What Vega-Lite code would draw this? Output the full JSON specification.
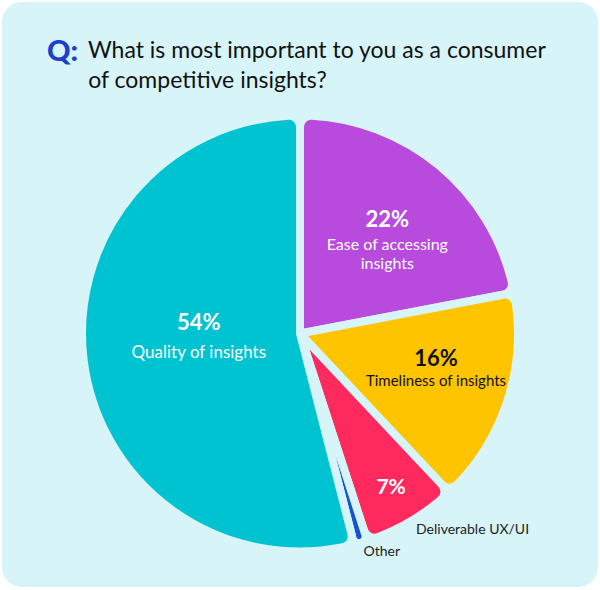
{
  "$schema": "https://vega.github.io/schema/vega-lite/v6.json",
  "autosize": "none",
  "width": 596,
  "height": 585,
  "padding": {"left": 2, "top": 2, "right": 2, "bottom": 3},
  "background": "white",
  "view": {"fill": "#d7f5f8", "stroke": null, "cornerRadius": 20},
  "title": {
    "text": "Q:",
    "subtitle": [
      "\u200b\u00a0\u00a0\u00a0\u00a0\u00a0\u00a0\u00a0What is most important to you as a consumer",
      "\u200b\u00a0\u00a0\u00a0\u00a0\u00a0\u00a0\u00a0of competitive insights?"
    ],
    "anchor": "start",
    "frame": "group",
    "dx": 45,
    "offset": -91,
    "font": "Lato",
    "fontSize": 29,
    "fontWeight": 900,
    "color": "#1c3fd1",
    "subtitleFont": "Lato",
    "subtitleFontSize": 23,
    "subtitleColor": "#111111",
    "subtitleLineHeight": 30,
    "subtitlePadding": -27
  },
  "data": {
    "values": [
      {"rank": 1, "name": "Ease of accessing\ninsights", "value": 0.22},
      {"rank": 2, "name": "Timeliness of insights", "value": 0.16},
      {"rank": 3, "name": "Deliverable UX/UI", "value": 0.07},
      {"rank": 4, "name": "Other", "value": 0.01},
      {"rank": 5, "name": "Quality of insights", "value": 0.54}
    ]
  },
  "encoding": {
    "theta": {"field": "value", "type": "quantitative", "stack": true},
    "order": {"field": "rank", "type": "quantitative"}
  },
  "layer": [
    {
      "mark": {"type": "arc", "outerRadius": 218, "cornerRadius": 11, "stroke": "#d7f5f8", "strokeWidth": 8, "yOffset": 39},
      "encoding": {
        "color": {
          "field": "name",
          "type": "nominal",
          "scale": {
            "domain": ["Ease of accessing\ninsights", "Timeliness of insights", "Deliverable UX/UI", "Other", "Quality of insights"],
            "range": ["#b84ade", "#ffc400", "#fe2a5e", "#1553d6", "#00c3d1"]
          },
          "legend": null
        }
      }
    },
    {
      "mark": {"type": "text", "radius": 102, "yOffset": 16, "font": "Lato", "fontSize": 22, "fontWeight": "bold", "color": "white"},
      "encoding": {"text": {"condition": {"test": "datum.rank === 5", "field": "value", "type": "quantitative", "format": ".0%"}, "value": ""}}
    },
    {
      "mark": {"type": "text", "radius": 102, "yOffset": 46, "font": "Lato", "fontSize": 17, "color": "white"},
      "encoding": {"text": {"condition": {"test": "datum.rank === 5", "field": "name"}, "value": ""}}
    },
    {
      "mark": {"type": "text", "radius": 137, "yOffset": 31, "font": "Lato", "fontSize": 22, "fontWeight": "bold", "color": "white"},
      "encoding": {"text": {"condition": {"test": "datum.rank === 1", "field": "value", "type": "quantitative", "format": ".0%"}, "value": ""}}
    },
    {
      "mark": {"type": "text", "radius": 137, "yOffset": 56, "font": "Lato", "fontSize": 16, "lineHeight": 19, "lineBreak": "\n", "color": "white"},
      "encoding": {"text": {"condition": {"test": "datum.rank === 1", "field": "name"}, "value": ""}}
    },
    {
      "mark": {"type": "text", "radius": 143, "yOffset": 20, "font": "Lato", "fontSize": 22, "fontWeight": "bold", "color": "#111111"},
      "encoding": {"text": {"condition": {"test": "datum.rank === 2", "field": "value", "type": "quantitative", "format": ".0%"}, "value": ""}}
    },
    {
      "mark": {"type": "text", "radius": 143, "yOffset": 42, "font": "Lato", "fontSize": 15, "color": "#111111"},
      "encoding": {"text": {"condition": {"test": "datum.rank === 2", "field": "name"}, "value": ""}}
    },
    {
      "mark": {"type": "text", "radius": 179, "yOffset": 39, "font": "Lato", "fontSize": 21, "fontWeight": "bold", "color": "white"},
      "encoding": {"text": {"condition": {"test": "datum.rank === 3", "field": "value", "type": "quantitative", "format": ".0%"}, "value": ""}}
    },
    {
      "mark": {"type": "text", "radius": 228, "yOffset": 39, "align": "left", "font": "Lato", "fontSize": 14, "color": "#222222"},
      "encoding": {"text": {"condition": {"test": "datum.rank === 3 || datum.rank === 4", "field": "name"}, "value": ""}}
    }
  ],
  "config": {
    "view": {"fill": "#d7f5f8", "stroke": null, "cornerRadius": 20},
    "style": {"cell": {"fill": "#d7f5f8", "stroke": null, "cornerRadius": 20}}
  }
}
